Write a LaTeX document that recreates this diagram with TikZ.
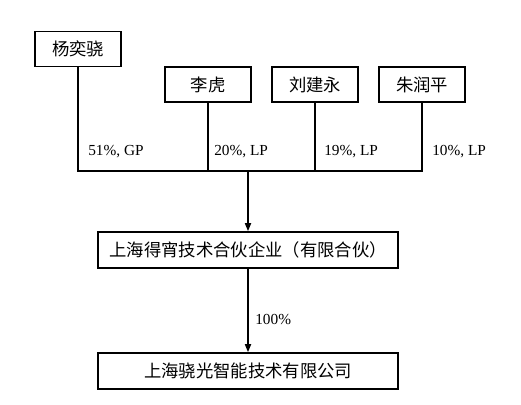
\documentclass[tikz,border=0pt]{standalone}
\usepackage{fontspec}
\setmainfont{Liberation Serif}
\newfontfamily\cjk{Noto Sans CJK SC}
\usetikzlibrary{arrows.meta, positioning}

\begin{document}
\begin{tikzpicture}[
    x=0.75pt, y=-0.75pt,
    holder/.style={draw, line width=1.2pt, minimum width=64.5pt, minimum height=26.25pt, inner sep=0pt, font=\cjk\fontsize{13}{15}\selectfont},
    firm/.style={draw, line width=1.2pt, minimum width=225pt, minimum height=27pt, inner sep=0pt, font=\cjk\fontsize{13}{15}\selectfont},
    share/.style={anchor=west, inner sep=0pt, font=\fontsize{11.5}{13}\selectfont},
    link/.style={line width=1.2pt},
    owns/.style={line width=1.2pt, -{Triangle[length=6pt, width=4.5pt]}},
]
  \useasboundingbox (0,0) rectangle (521,404);

  % Shareholders
  \node[holder] (yang) at (78, 49)   {杨奕骁};
  \node[holder] (li)   at (208, 84.5) {李虎};
  \node[holder] (liu)  at (315, 84.5) {刘建永};
  \node[holder] (zhu)  at (422, 84.5) {朱润平};

  % Partnership and company
  \node[firm] (fund) at (248, 250) {上海得宵技术合伙企业（有限合伙）};
  \node[firm] (comp) at (248, 371) {上海骁光智能技术有限公司};

  % Junctions on the collecting bar
  \coordinate (j1) at (yang.south |- 0,171);
  \coordinate (j2) at (li.south |- 0,171);
  \coordinate (j3) at (liu.south |- 0,171);
  \coordinate (j4) at (zhu.south |- 0,171);
  \coordinate (jm) at (fund.north |- 0,171);

  \draw[link] (yang.south) -- (j1) -- (j4) -- (zhu.south);
  \draw[link] (li.south) -- (j2);
  \draw[link] (liu.south) -- (j3);
  \draw[owns] (jm) -- (fund.north);
  \draw[owns] (fund.south) -- (comp.north);

  % Shares
  \node[share] (s1) at (88, 152)  {51\%, GP};
  \node[share] (s2) at (214, 152) {20\%, LP};
  \node[share] (s3) at (324, 152) {19\%, LP};
  \node[share] (s4) at (432, 152) {10\%, LP};
  \node[share] (s5) at (255, 319) {100\%};
\end{tikzpicture}
\end{document}
